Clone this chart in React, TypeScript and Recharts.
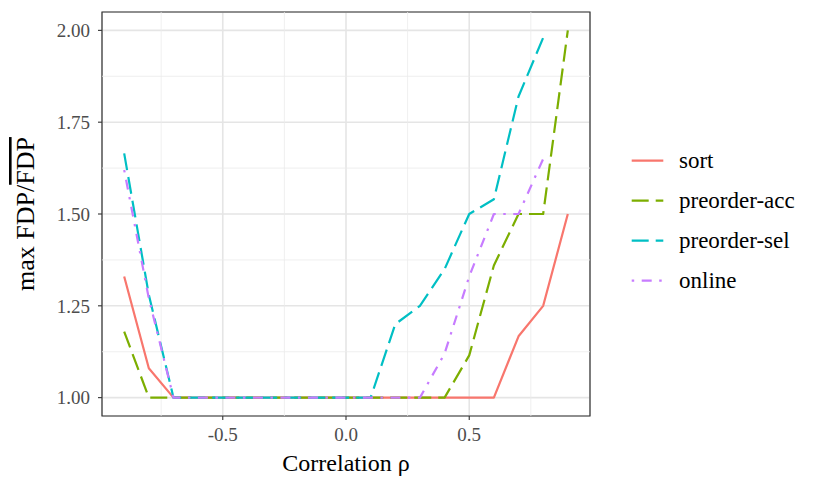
import { CartesianGrid, Label, Line, LineChart, ReferenceArea, ReferenceLine, XAxis, YAxis } from "recharts";

const rho = [-0.9, -0.8, -0.7, -0.6, -0.5, -0.4, -0.3, -0.2, -0.1, 0, 0.1, 0.2, 0.3, 0.4, 0.5, 0.6, 0.7, 0.8, 0.9];
const sortVals = [1.33, 1.08, 1, 1, 1, 1, 1, 1, 1, 1, 1, 1, 1, 1, 1, 1, 1.167, 1.25, 1.5];
const preorderAcc = [1.18, 1, 1, 1, 1, 1, 1, 1, 1, 1, 1, 1, 1, 1, 1.115, 1.36, 1.5, 1.5, 2];
const preorderSel = [1.665, 1.28, 1, 1, 1, 1, 1, 1, 1, 1, 1, 1.2, 1.25, 1.35, 1.5, 1.54, 1.82, 1.98, null];
const online = [1.62, 1.27, 1, 1, 1, 1, 1, 1, 1, 1, 1, 1, 1, 1.12, 1.33, 1.5, 1.5, 1.65, null];

const xTicks = [-0.5, 0, 0.5];
const yTicks = [1, 1.25, 1.5, 1.75, 2];
const xMinor = [-0.75, -0.25, 0.25, 0.75];
const yMinor = [1.125, 1.375, 1.625, 1.875];

const series = [
  { key: "sort", color: "#F8766D", dash: undefined as string | undefined },
  { key: "preorder-acc", color: "#7CAE00", dash: "17 7" },
  { key: "preorder-sel", color: "#00BFC4", dash: "17 7" },
  { key: "online", color: "#C77CFF", dash: "2.5 7.5 10 7.5" },
];

const data = rho.map((r, i) => ({
  rho: r,
  sort: sortVals[i],
  "preorder-acc": preorderAcc[i],
  "preorder-sel": preorderSel[i],
  online: online[i],
}));

const FONT = "'Liberation Serif', 'Times New Roman', serif";
const serif = { fontFamily: FONT };

function XTitle(props: any) {
  const vb = props.viewBox;
  return (
    <text x={vb.x + vb.width / 2} y={vb.y + 55} textAnchor="middle" fontSize={24} style={serif} fill="#000">
      Correlation ρ
    </text>
  );
}

function YTitle(props: any) {
  const vb = props.viewBox;
  const cy = vb.y + vb.height / 2;
  const x = 34;
  return (
    <text
      x={x}
      y={cy}
      transform={`rotate(-90, ${x}, ${cy})`}
      textAnchor="middle"
      fontSize={26}
      style={serif}
      fill="#000"
    >
      max FDP/<tspan textDecoration="overline">FDP</tspan>
    </text>
  );
}

function LegendBox() {
  return (
    <svg width={200} height={170} style={{ position: "absolute", left: 625, top: 140 }}>
      {series.map((s, i) => (
        <g key={s.key} transform={`translate(0, ${20.7 + i * 40})`}>
          <line x1={6.7} x2={38.3} y1={0} y2={0} stroke={s.color} strokeWidth={2.2} strokeDasharray={s.dash} />
          <text x={54} y={0} dy="0.32em" fontSize={23} style={serif} fill="#000">
            {s.key}
          </text>
        </g>
      ))}
    </svg>
  );
}

export default function App() {
  return (
    <div style={{ position: "absolute", left: 0, top: 0, width: 830, height: 499, background: "#fff", fontFamily: FONT }}>
      <LineChart width={830} height={499} data={data} margin={{ top: 12, right: 240, left: 42, bottom: 23 }}>
        {xMinor.map((v) => (
          <ReferenceLine key={`xm${v}`} x={v} stroke="#EBEBEB" strokeWidth={0.8} />
        ))}
        {yMinor.map((v) => (
          <ReferenceLine key={`ym${v}`} y={v} stroke="#EBEBEB" strokeWidth={0.8} />
        ))}
        <CartesianGrid stroke="#E5E5E5" strokeWidth={1.6} />
        <XAxis
          dataKey="rho"
          type="number"
          domain={[-0.99, 0.99]}
          ticks={xTicks}
          allowDataOverflow
          axisLine={false}
          tickSize={4}
          tickMargin={8}
          tickLine={{ stroke: "#333333", strokeWidth: 1.1 }}
          tick={{ fontSize: 19, fill: "#4D4D4D", style: serif }}
          tickFormatter={(v) => Number(v).toFixed(1)}
          height={60}
        >
          <Label content={XTitle} />
        </XAxis>
        <YAxis
          type="number"
          domain={[0.95, 2.05]}
          ticks={yTicks}
          allowDataOverflow
          axisLine={false}
          tickSize={4}
          tickMargin={8}
          tickLine={{ stroke: "#333333", strokeWidth: 1.1 }}
          tick={{ fontSize: 19, fill: "#4D4D4D", style: serif }}
          tickFormatter={(v) => Number(v).toFixed(2)}
          width={60}
        >
          <Label content={YTitle} />
        </YAxis>
        {series.map((s) => (
          <Line
            key={s.key}
            dataKey={s.key}
            type="linear"
            stroke={s.color}
            strokeWidth={2.2}
            strokeDasharray={s.dash}
            strokeLinecap="butt"
            strokeLinejoin="round"
            dot={false}
            activeDot={false}
            isAnimationActive={false}
          />
        ))}
        <ReferenceArea x1={-0.99} x2={0.99} y1={0.95} y2={2.05} fill="none" stroke="#333333" strokeWidth={1.2} />
      </LineChart>
      <LegendBox />
    </div>
  );
}
